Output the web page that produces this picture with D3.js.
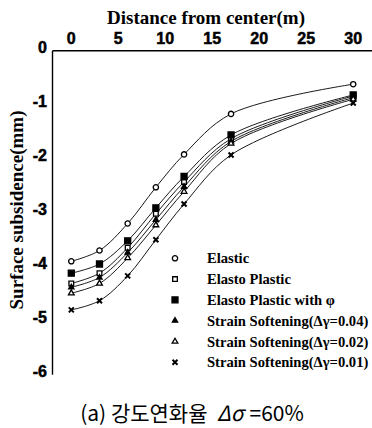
<!doctype html>
<html>
<head>
<meta charset="utf-8">
<title>surface subsidence</title>
<style>
  body { margin: 0; background: #fff; }
  svg { display: block; }
</style>
</head>
<body>
<script src="https://d3js.org/d3.v7.min.js"></script>
<svg id="chart" width="372" height="428"></svg>
<script>
// distances (m)
const distance = [0, 3, 6, 9, 12, 17, 30];

// surface subsidence (mm) per model
const elastic        = [-3.90, -3.70, -3.20, -2.53, -1.92, -1.17, -0.62];
const elastoPlastic  = [-4.31, -4.12, -3.65, -3.02, -2.43, -1.63, -0.84];
const elastoPlasticPhi = [-4.12, -3.95, -3.52, -2.91, -2.33, -1.56, -0.82];
const softening004   = [-4.38, -4.20, -3.74, -3.13, -2.52, -1.68, -0.87];
const softening002   = [-4.49, -4.31, -3.84, -3.23, -2.61, -1.72, -0.90];
const softening001   = [-4.80, -4.63, -4.17, -3.50, -2.84, -1.93, -0.97];

const seriesNames = [
  "Elastic",
  "Elasto Plastic",
  "Elasto Plastic with \u03c6",
  "Strain Softening(\u0394\u03b3=0.04)",
  "Strain Softening(\u0394\u03b3=0.02)",
  "Strain Softening(\u0394\u03b3=0.01)"
];
const seriesValues = [elastic, elastoPlastic, elastoPlasticPhi, softening004, softening002, softening001];

const xTicks = [0, 5, 10, 15, 20, 25, 30];
const yTicks = [0, -1, -2, -3, -4, -5, -6];

let svg = d3.select("#chart");

let x = d3.scaleLinear().domain([-2, 32]).range([52.5, 372]);
let y = d3.scaleLinear().domain([0, -6]).range([50.7, 374.7]);

// marker shapes
const markers = [
  {type: d3.symbolCircle, size: 22, fill: "white"},
  {type: d3.symbolSquare, size: 22, fill: "white"},
  {type: d3.symbolSquare, size: 36, fill: "black"},
  {type: d3.symbolTriangle, size: 12, fill: "black"},
  {type: d3.symbolTriangle, size: 14, fill: "white"},
  {type: d3.symbolX, size: 18, fill: "none"}
];

const serif = "'Liberation Serif', 'Times New Roman', serif";
const sans = "'Liberation Sans', Arial, sans-serif";

// axes (no tick marks, just lines + labels)
svg.append("line")
  .attr("x1", x(-2)).attr("x2", 372)
  .attr("y1", y(0)).attr("y2", y(0))
  .attr("stroke", "black").attr("stroke-width", 1.4);
svg.append("line")
  .attr("x1", x(-2)).attr("x2", x(-2))
  .attr("y1", y(0)).attr("y2", y(-6))
  .attr("stroke", "black").attr("stroke-width", 1.4);

svg.append("g").selectAll("text")
  .data(xTicks).enter().append("text")
  .attr("x", d => x(d))
  .attr("y", 44)
  .attr("text-anchor", "middle")
  .attr("fill", "black")
  .attr("stroke", "black").attr("stroke-width", 0.5)
  .style("font-family", sans)
  .style("font-weight", "700")
  .style("font-size", "16px")
  .text(d => d);

svg.append("g").selectAll("text")
  .data(yTicks).enter().append("text")
  .attr("x", 47)
  .attr("y", d => y(d) + 2)
  .attr("text-anchor", "end")
  .attr("fill", "black")
  .attr("stroke", "black").attr("stroke-width", 0.5)
  .style("font-family", sans)
  .style("font-weight", "700")
  .style("font-size", "16px")
  .text(d => d);

// axis titles
svg.append("text")
  .attr("x", 206).attr("y", 24)
  .attr("text-anchor", "middle")
  .style("font-family", serif)
  .style("font-weight", "700")
  .style("font-size", "19px")
  .text("Distance from center(m)");

svg.append("text")
  .attr("transform", "translate(23,210) rotate(-90)")
  .attr("text-anchor", "middle")
  .style("font-family", serif)
  .style("font-weight", "700")
  .style("font-size", "19px")
  .text("Surface subsidence(mm)");

// curves
let line = d3.line()
  .x((d, i) => x(distance[i]))
  .y(d => y(d))
  .curve(d3.curveCatmullRom.alpha(0.5));

let plot = svg.append("g");
seriesValues.forEach((vals, s) => {
  plot.append("path")
    .attr("d", line(vals))
    .attr("fill", "none")
    .attr("stroke", "black")
    .attr("stroke-width", 0.9);
});

seriesValues.forEach((vals, s) => {
  let m = markers[s];
  plot.append("g").selectAll("path")
    .data(vals).enter().append("path")
    .attr("transform", (d, i) => `translate(${x(distance[i])},${y(d)})`)
    .attr("d", d3.symbol().type(m.type).size(m.size))
    .attr("fill", m.fill)
    .attr("stroke", "black")
    .attr("stroke-width", m.type === d3.symbolX ? 2 : 1.3);
});

// legend
let legend = svg.append("g");
seriesNames.forEach((name, s) => {
  let ly = 258.3 + s * 20.8;
  let m = markers[s];
  legend.append("path")
    .attr("transform", `translate(175,${ly})`)
    .attr("d", d3.symbol().type(m.type).size(m.size))
    .attr("fill", m.fill)
    .attr("stroke", "black")
    .attr("stroke-width", m.type === d3.symbolX ? 2 : 1.3);
  legend.append("text")
    .attr("x", 207).attr("y", ly + 5)
    .style("font-family", serif)
    .style("font-weight", "700")
    .style("font-size", "14.6px")
    .text(name);
});

// caption
let cap = svg.append("text")
  .attr("x", 192).attr("y", 421)
  .attr("text-anchor", "middle")
  .style("white-space", "pre")
  .style("font-family", "'Noto Sans CJK KR', 'Noto Sans', sans-serif")
  .style("font-size", "21px");
cap.append("tspan").text("(a) 강도연화율\u00a0\u00a0");
cap.append("tspan").style("font-style", "italic").text("\u0394\u03c3");
cap.append("tspan").attr("dx", 6).text("=60%");
</script>
</body>
</html>
